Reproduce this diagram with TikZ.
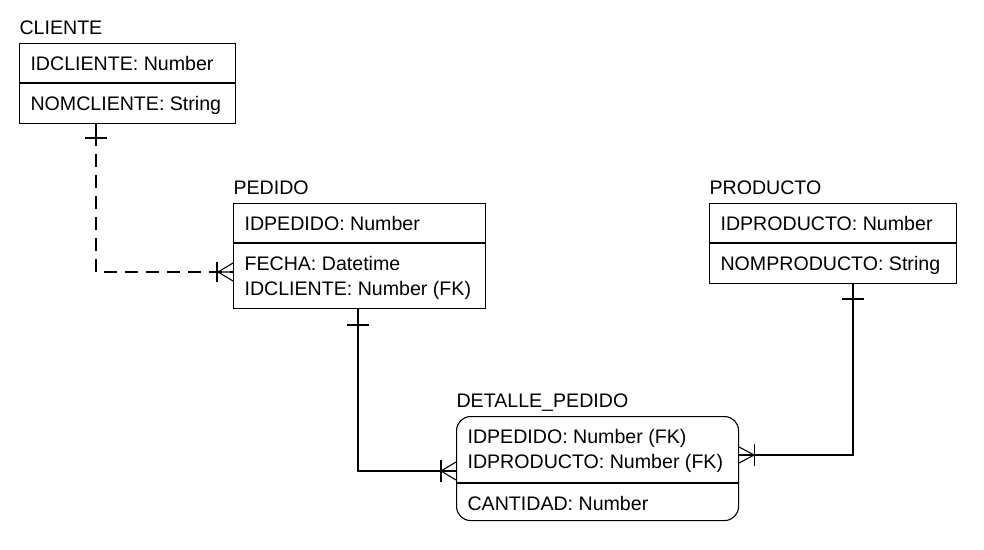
\documentclass[tikz,border=0pt]{standalone}
\usepackage{fontspec}
\setmainfont{Liberation Sans}
\begin{document}
\begin{tikzpicture}[x=1pt, y=-1pt, line width=1.1pt, font=\fontsize{19.6}{25}\selectfont,
    entity/.style = {draw, rectangle, inner sep=0, anchor=north west},
    label/.style = {anchor=base west, inner sep=0}]
    \useasboundingbox (0,0) rectangle (984,549);
    % entities
    \node[entity, minimum width=216pt, minimum height=80pt] (cliente) at (19,43) {};
    \node[entity, minimum width=252pt, minimum height=105pt] (pedido) at (233,203) {};
    \node[entity, minimum width=247pt, minimum height=80pt] (producto) at (709,203) {};
    \node[entity, minimum width=282pt, minimum height=104pt, rounded corners=14pt] (detalle) at (456,416) {};
    \draw (cliente.west |- 0,83) -- (cliente.east |- 0,83);
    \draw (pedido.west |- 0,243) -- (pedido.east |- 0,243);
    \draw (producto.west |- 0,243) -- (producto.east |- 0,243);
    \draw (detalle.west |- 0,483) -- (detalle.east |- 0,483);
    % titles and attributes
    \node[label] (t1) at (19,34) {CLIENTE};
    \node[label] (a1) at (30,70) {IDCLIENTE: Number};
    \node[label] (a2) at (30,110) {NOMCLIENTE: String};
    \node[label] (t2) at (233,194) {PEDIDO};
    \node[label] (a3) at (244,230) {IDPEDIDO: Number};
    \node[label] (a4) at (244,270) {FECHA: Datetime};
    \node[label] (a5) at (244,295) {IDCLIENTE: Number (FK)};
    \node[label] (t3) at (709,194) {PRODUCTO};
    \node[label] (a6) at (720,230) {IDPRODUCTO: Number};
    \node[label] (a7) at (720,270) {NOMPRODUCTO: String};
    \node[label] (t4) at (456,407) {DETALLE\_PEDIDO};
    \node[label] (a8) at (467,443) {IDPEDIDO: Number (FK)};
    \node[label] (a9) at (467,468) {IDPRODUCTO: Number (FK)};
    \node[label] (a10) at (467,510) {CANTIDAD: Number};
    % relationships
    \coordinate (c1) at (96,123);
    \coordinate (c2) at (96,272);
    \coordinate (c3) at (pedido.west |- c2);
    \draw (c1) -- ++(0,23);
    \draw[dash pattern=on 13pt off 8pt] ([shift={(0,31)}]c1) -- (c2) -- (c3);
    \draw ([shift={(-11,15)}]c1) -- ++(22,0);
    \draw ([shift={(-16,-10)}]c3) -- ++(0,20);
    \draw (c3) -- ++(-15,0) -- ([shift={(0,-9)}]c3);
    \draw ([shift={(-15,0)}]c3) -- ([shift={(0,9)}]c3);

    \coordinate (p1) at (358,308);
    \coordinate (p2) at (358,471);
    \coordinate (p3) at (detalle.west |- p2);
    \draw (p1) -- (p2) -- (p3);
    \draw ([shift={(-11,17)}]p1) -- ++(22,0);
    \draw ([shift={(-15,-11)}]p3) -- ++(0,22);
    \draw ([shift={(-15,0)}]p3) -- ([shift={(0,-9)}]p3);
    \draw ([shift={(-15,0)}]p3) -- ([shift={(0,9)}]p3);

    \coordinate (r1) at (853,283);
    \coordinate (r2) at (853,455);
    \coordinate (r3) at (detalle.east |- r2);
    \draw (r1) -- (r2) -- (r3);
    \draw ([shift={(-11,16)}]r1) -- ++(22,0);
    \draw ([shift={(15,-11)}]r3) -- ++(0,22);
    \draw ([shift={(15,0)}]r3) -- ([shift={(0,-8)}]r3);
    \draw ([shift={(15,0)}]r3) -- ([shift={(0,8)}]r3);
\end{tikzpicture}
\end{document}
